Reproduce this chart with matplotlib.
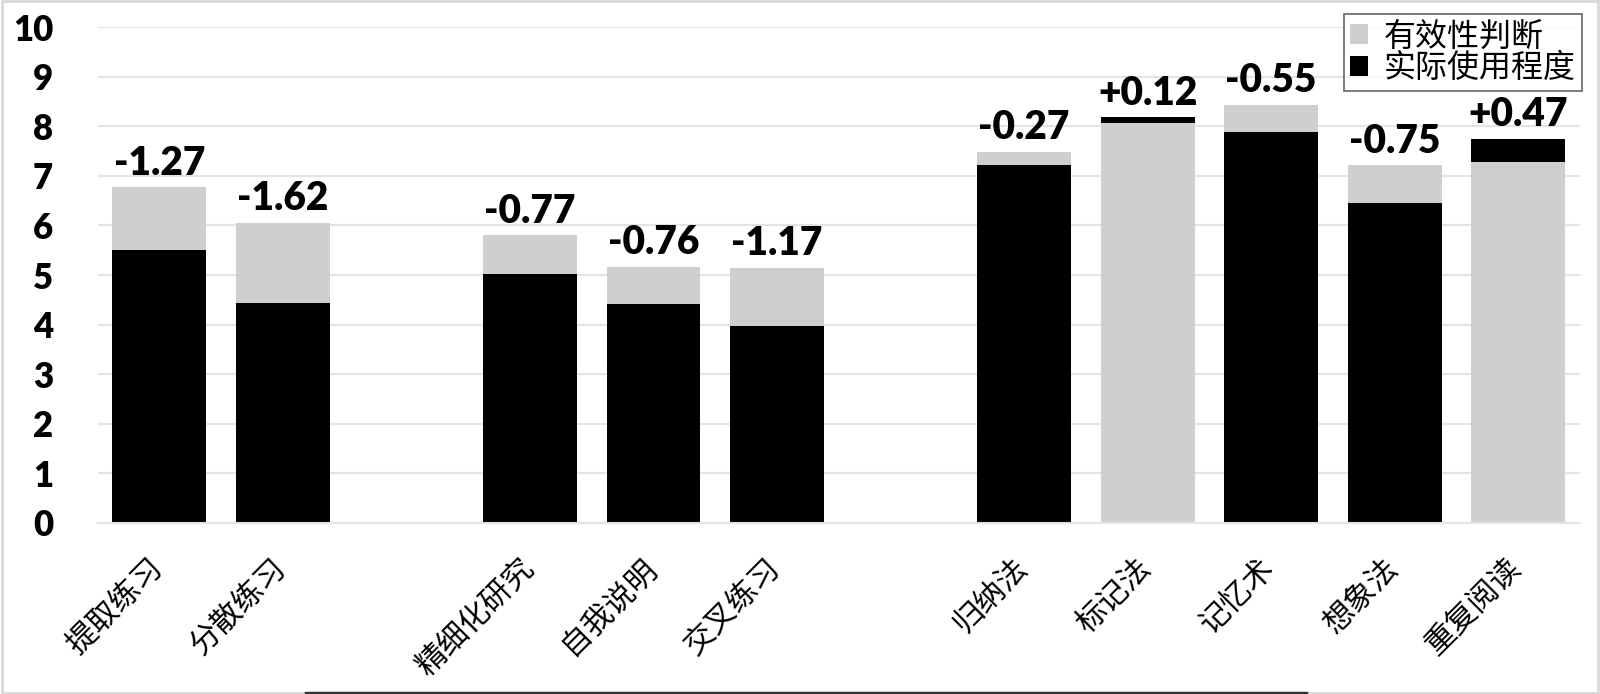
import matplotlib
matplotlib.use("Agg")
from matplotlib import pyplot as plt
from matplotlib.lines import Line2D
from matplotlib.patches import Rectangle, Patch
from matplotlib.transforms import ScaledTranslation

plt.rcParams['font.family'] = ['Noto Sans CJK SC', 'DejaVu Sans']

# data
strategies = ['提取练习', '分散练习', '精细化研究', '自我说明', '交叉练习',
              '归纳法', '标记法', '记忆术', '想象法', '重复阅读']
positions = [0, 1, 3, 4, 5, 7, 8, 9, 10, 11]
effectiveness = [6.77, 6.05, 5.80, 5.17, 5.15, 7.49, 8.06, 8.43, 7.21, 7.28]
usage = [5.50, 4.43, 5.03, 4.41, 3.98, 7.22, 8.18, 7.88, 6.46, 7.75]
diff_labels = ['-1.27', '-1.62', '-0.77', '-0.76', '-1.17',
               '-0.27', '+0.12', '-0.55', '-0.75', '+0.47']

gray = '#d0cfd0'
black = '#000000'
num_font = ['Lato', 'DejaVu Sans']

fig = plt.figure(figsize=(16, 6.94), dpi=100)
ax = fig.add_axes([0.061, 0.2464, 0.9265, 0.7146])

width = 0.76
for x, e, u, lab in zip(positions, effectiveness, usage, diff_labels):
    # taller bar at the back, shorter in front
    if e >= u:
        ax.bar(x, e, width, color=gray, zorder=2)
        ax.bar(x, u, width, color=black, zorder=3)
    else:
        ax.bar(x, u, width, color=black, zorder=2)
        ax.bar(x, e, width, color=gray, zorder=3)
    ax.annotate(lab, (x, max(e, u)), xytext=(0, 4), textcoords='offset points',
                ha='center', va='bottom', fontsize=28, fontweight='heavy',
                family=num_font)

ax.set_xlim(-0.5, 11.5)
ax.set_ylim(0, 10)
ax.set_yticks(range(0, 11))
ax.set_yticklabels([str(i) for i in range(0, 11)], fontsize=25,
                   fontweight='heavy', family=num_font)
ax.set_xticks(positions)
ax.set_xticklabels(strategies, rotation=45, ha='right', rotation_mode='anchor',
                   fontsize=22)
ax.tick_params(axis='y', length=0, pad=32)
ax.tick_params(axis='x', length=0, pad=21.5)
# nudge the slanted labels a little to the left
shift = ScaledTranslation(-0.12, 0, fig.dpi_scale_trans)
for t in ax.get_xticklabels():
    t.set_transform(t.get_transform() + shift)

ax.grid(axis='y', color='#e4e4e4', linewidth=1.5, zorder=0)
ax.set_axisbelow(True)
for s in ['left', 'right', 'top']:
    ax.spines[s].set_visible(False)
ax.spines['bottom'].set_color('#e4e4e4')
ax.spines['bottom'].set_linewidth(1.5)
ax.spines['bottom'].set_zorder(4)

handles = [Patch(facecolor=gray, edgecolor='none', label='有效性判断'),
           Patch(facecolor=black, edgecolor='none', label='实际使用程度')]
leg = fig.legend(handles=handles, loc='upper right',
                 bbox_to_anchor=(0.989, 0.9798), fontsize=23, frameon=True,
                 fancybox=False, edgecolor='#404040', borderpad=0.2,
                 labelspacing=0.0, handlelength=0.55, handleheight=0.55,
                 handletextpad=0.5, borderaxespad=0)
leg.get_frame().set_linewidth(1.2)
leg.set_zorder(5)

# figure border and the dark strip along the bottom edge
fig.add_artist(Rectangle((0.001, 0.001), 0.998, 0.997, transform=fig.transFigure,
                         fill=False, edgecolor='#d9d9d9', linewidth=2))
fig.add_artist(Line2D([306 / 1600, 1306 / 1600], [0.002, 0.002],
                      transform=fig.transFigure, color='#333333', linewidth=2.5))

fig.savefig('out.png', dpi=100)
